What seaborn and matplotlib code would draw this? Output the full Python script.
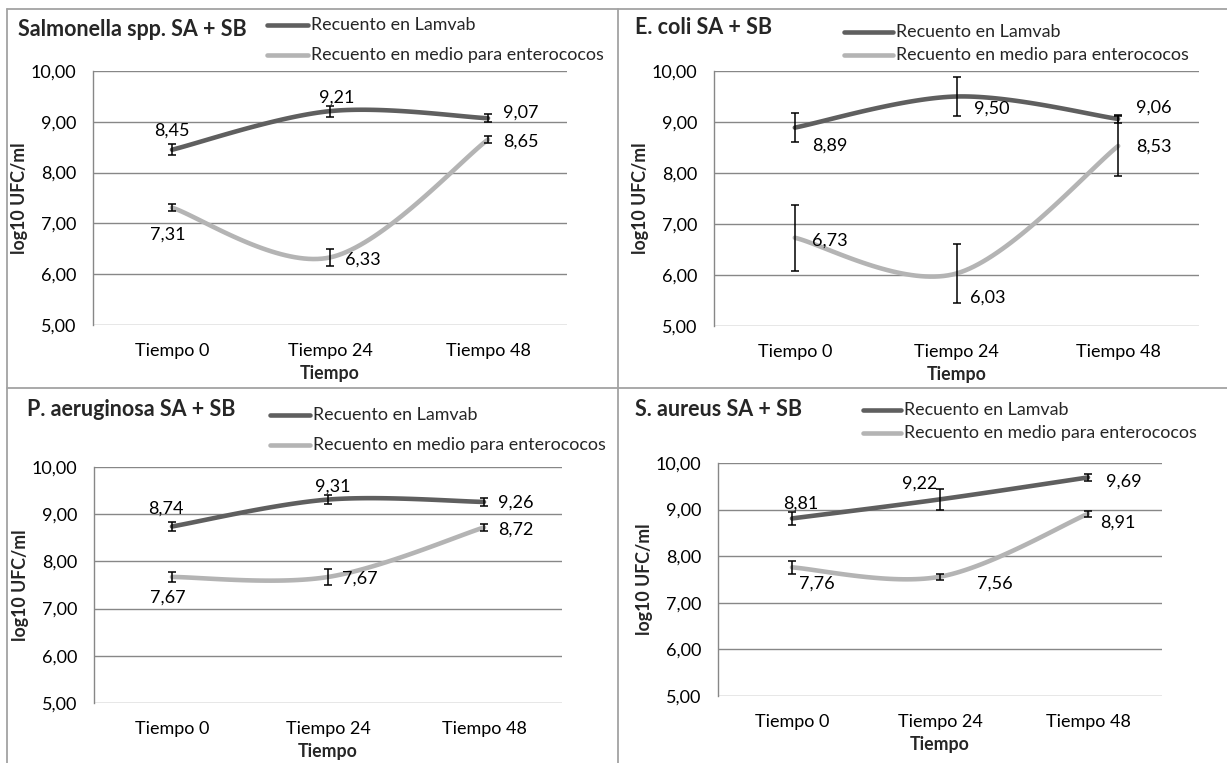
import numpy as np
import pandas as pd
import matplotlib
matplotlib.use("Agg")
import matplotlib.pyplot as plt
from matplotlib.lines import Line2D
import seaborn as sns

# ---- data -------------------------------------------------------------
tiempos = ["Tiempo 0", "Tiempo 24", "Tiempo 48"]
serie_lamvab = "Recuento en Lamvab"
serie_entero = "Recuento en medio para enterococos"

titulos = ["Salmonella spp. SA + SB", "E. coli SA + SB",
           "P. aeruginosa SA + SB", "S. aureus SA + SB"]

lamvab_salmonella = [8.45, 9.21, 9.07]
entero_salmonella = [7.31, 6.33, 8.65]
lamvab_ecoli = [8.89, 9.50, 9.06]
entero_ecoli = [6.73, 6.03, 8.53]
lamvab_paeru = [8.74, 9.31, 9.26]
entero_paeru = [7.67, 7.67, 8.72]
lamvab_saureus = [8.81, 9.22, 9.69]
entero_saureus = [7.76, 7.56, 8.91]

# error bar half-widths (log10 UFC/ml)
err_lamvab_salmonella = [0.11, 0.11, 0.075]
err_entero_salmonella = [0.07, 0.16, 0.07]
err_lamvab_ecoli = [0.29, 0.38, 0.07]
err_entero_ecoli = [0.65, 0.57, 0.58]
err_lamvab_paeru = [0.09, 0.10, 0.09]
err_entero_paeru = [0.10, 0.16, 0.07]
err_lamvab_saureus = [0.14, 0.22, 0.08]
err_entero_saureus = [0.14, 0.06, 0.06]

y_ticks = [5, 6, 7, 8, 9, 10]

# ---- figure geometry (pixels) -----------------------------------------
W, H = 1227, 763
DPI = 100

panels = [
    dict(titulo=titulos[0], lam=lamvab_salmonella, ent=entero_salmonella,
         elam=err_lamvab_salmonella, eent=err_entero_salmonella,
         ax=(93, 71, 567, 325), title=(18, 29), leg=(267, 308, 25, 55),
         lab_lam=[(0, 19), (7, 14), (33, 6)],
         lab_ent=[(-4, -27), (33, -2), (33, -2)]),
    dict(titulo=titulos[1], lam=lamvab_ecoli, ent=entero_ecoli,
         elam=err_lamvab_ecoli, eent=err_entero_ecoli,
         ax=(714, 71, 1199, 326), title=(635, 28), leg=(844, 893, 32, 55),
         lab_lam=[(35, -18), (35, -12), (36, 11)],
         lab_ent=[(35, -3), (31, -24), (36, -1)]),
    dict(titulo=titulos[2], lam=lamvab_paeru, ent=entero_paeru,
         elam=err_lamvab_paeru, eent=err_entero_paeru,
         ax=(94, 467, 562, 703), title=(27, 409), leg=(270, 310, 415, 445),
         lab_lam=[(-6, 18), (5, 13), (32, -1)],
         lab_ent=[(-4, -21), (32, -2), (32, -2)]),
    dict(titulo=titulos[3], lam=lamvab_saureus, ent=entero_saureus,
         elam=err_lamvab_saureus, eent=err_entero_saureus,
         ax=(718, 463, 1162, 696), title=(635, 409), leg=(863, 901, 410, 433),
         lab_lam=[(9, 15), (-20, 16), (36, -4)],
         lab_ent=[(25, -16), (55, -7), (30, -9)]),
]

COL_LAM = "#5f5f5f"
COL_ENT = "#b4b4b4"
COL_GRID = "#878787"
COL_FRAME = "#a3a3a3"
LW = 3.3
FS = 13

sns.set_theme(style="white")
plt.rcParams["font.family"] = ["Lato", "DejaVu Sans"]


def smooth_curve(values, n=40):
    """Cubic Bezier smoothing through the points (spreadsheet-style)."""
    x = np.arange(len(values), dtype=float)
    y = np.asarray(values, dtype=float)
    pts = np.column_stack([x, y])
    out = []
    for i in range(len(pts) - 1):
        p0 = pts[i]
        p3 = pts[i + 1]
        prev = pts[i - 1] if i > 0 else pts[i]
        nxt = pts[i + 2] if i + 2 < len(pts) else pts[i + 1]
        p1 = p0 + (p3 - prev) / 6.0
        p2 = p3 - (nxt - p0) / 6.0
        t = np.linspace(0, 1, n)[:, None]
        seg = ((1 - t) ** 3) * p0 + 3 * ((1 - t) ** 2) * t * p1 \
            + 3 * (1 - t) * t ** 2 * p2 + t ** 3 * p3
        out.append(seg if i == 0 else seg[1:])
    c = np.vstack(out)
    return pd.DataFrame({"x": c[:, 0], "y": c[:, 1]})


def fmt(v):
    return f"{v:.2f}".replace(".", ",")


fig = plt.figure(figsize=(W / DPI, H / DPI), dpi=DPI)
fig.patch.set_facecolor("white")


def fx(x):
    return x / W


def fy(y):
    return 1 - y / H


for p in panels:
    x0, y0, x1, y1 = p["ax"]
    ax = fig.add_axes([fx(x0), fy(y1), (x1 - x0) / W, (y1 - y0) / H])
    ax.set_facecolor("white")

    for vals, errs, col in ((p["lam"], p["elam"], COL_LAM),
                            (p["ent"], p["eent"], COL_ENT)):
        sns.lineplot(data=smooth_curve(vals), x="x", y="y", ax=ax,
                     estimator=None, sort=False, color=col, lw=LW,
                     solid_capstyle="round", zorder=3, legend=False)
        ax.errorbar(range(len(vals)), vals, yerr=errs, fmt="none",
                    ecolor="black", elinewidth=1.1, capsize=3.2,
                    capthick=1.1, zorder=4)

    for vals, offs in ((p["lam"], p["lab_lam"]), (p["ent"], p["lab_ent"])):
        for i, (v, (dx, dy)) in enumerate(zip(vals, offs)):
            ax.annotate(fmt(v), xy=(i, v), xytext=(dx, dy),
                        textcoords="offset pixels", ha="center",
                        va="center", fontsize=FS, color="black", zorder=5)

    ax.set_xlim(-0.5, 2.5)
    ax.set_ylim(5, 10)
    ax.set_yticks(y_ticks)
    ax.set_yticklabels([fmt(v) for v in y_ticks])
    ax.set_xticks(range(len(tiempos)))
    ax.set_xticklabels(tiempos)
    ax.tick_params(axis="both", length=0, labelsize=FS, colors="black")
    ax.tick_params(axis="y", pad=12)
    ax.tick_params(axis="x", pad=13)
    ax.grid(axis="y", color=COL_GRID, lw=1.0, zorder=0)
    ax.grid(axis="x", visible=False)
    for s in ("top", "right", "bottom"):
        ax.spines[s].set_visible(False)
    ax.spines["left"].set_color(COL_GRID)
    ax.spines["left"].set_linewidth(1.0)
    ax.set_xlabel("Tiempo", fontsize=12.8, fontweight="bold", labelpad=4)
    ax.set_ylabel("log10 UFC/ml", fontsize=12.8, fontweight="bold",
                  labelpad=2)

    # panel title
    tx, ty = p["title"]
    fig.text(fx(tx), fy(ty), p["titulo"], fontsize=15.5, fontweight="bold",
             ha="left", va="center")

    # legend
    lx0, lx1, ry1, ry2 = p["leg"]
    for ry, col, lab in ((ry1, COL_LAM, serie_lamvab),
                         (ry2, COL_ENT, serie_entero)):
        fig.add_artist(Line2D([fx(lx0), fx(lx1)], [fy(ry), fy(ry)],
                              color=col, lw=LW, solid_capstyle="round"))
        fig.text(fx(lx1 + 3), fy(ry), lab, fontsize=12.9, ha="left",
                 va="center")

# panel frame lines
fig.add_artist(Line2D([fx(7), 1], [fy(9), fy(9)], color=COL_FRAME, lw=1.3))
fig.add_artist(Line2D([fx(7), fx(7)], [fy(9), 0], color=COL_FRAME, lw=1.3))
fig.add_artist(Line2D([fx(7), 1], [fy(388), fy(388)], color=COL_FRAME, lw=1.3))
fig.add_artist(Line2D([fx(618), fx(618)], [fy(9), 0], color=COL_FRAME, lw=1.3))

fig.savefig("out.png", dpi=DPI, facecolor="white")
